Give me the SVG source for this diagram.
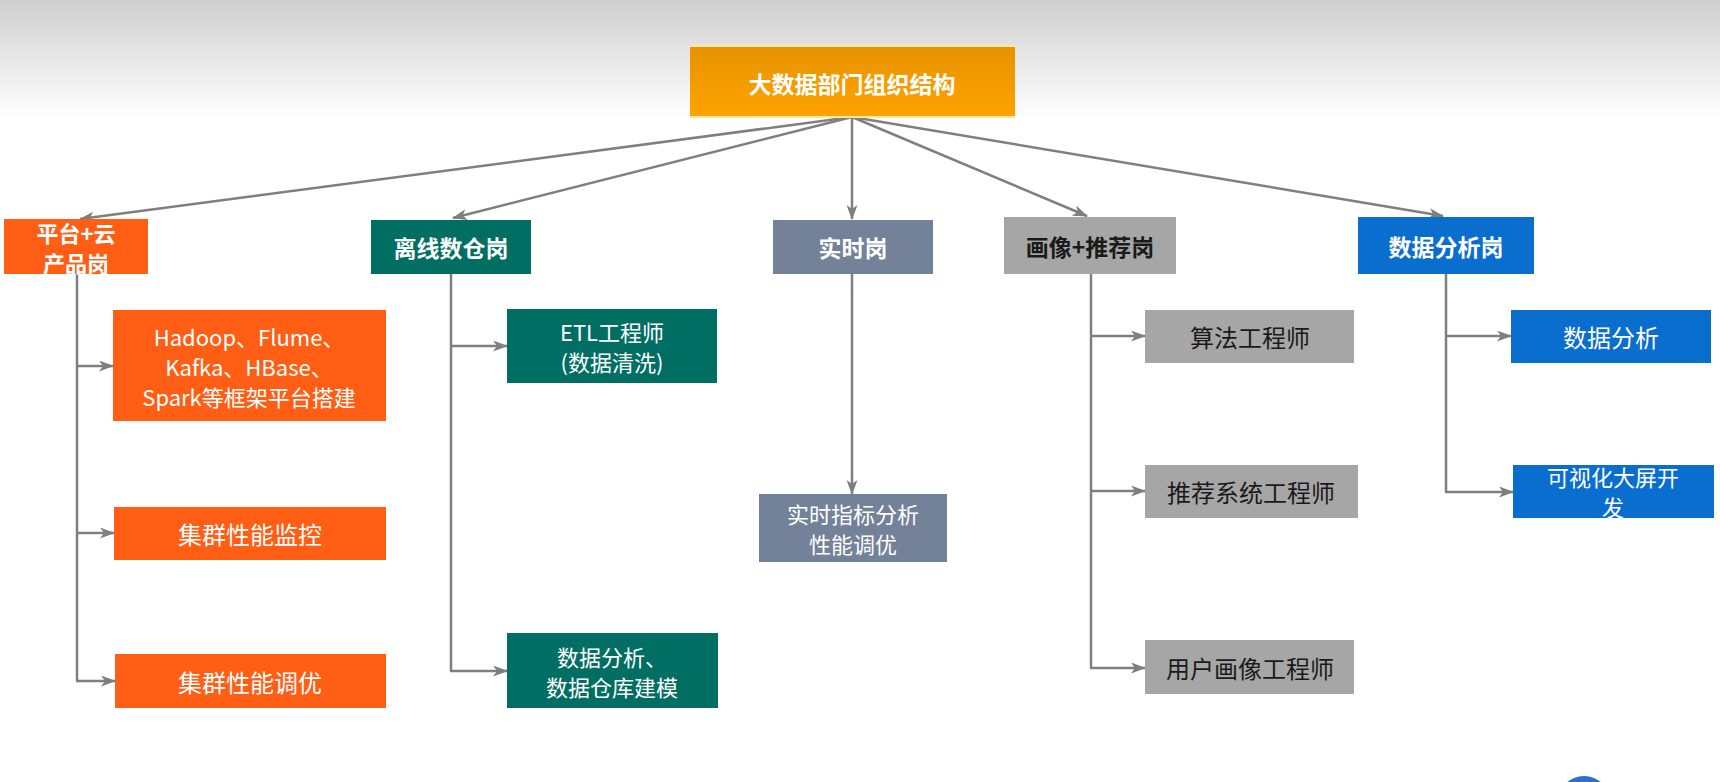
<svg xmlns="http://www.w3.org/2000/svg" width="1720" height="782" viewBox="0 0 1720 782">
<defs>
<linearGradient id="bg" x1="0" y1="0" x2="0" y2="1">
<stop offset="0" stop-color="#cfcfcf"/>
<stop offset="1" stop-color="#ffffff"/>
</linearGradient>
<linearGradient id="topg" x1="0" y1="0" x2="0" y2="1">
<stop offset="0" stop-color="#e69300"/>
<stop offset="1" stop-color="#ffa400"/>
</linearGradient>
<marker id="arr" viewBox="0 0 15 11" refX="14" refY="5.5" markerWidth="15" markerHeight="11" markerUnits="userSpaceOnUse" orient="auto">
<path d="M0,0 L15,5.5 L0,11 L4,5.5 z" fill="#7f7f7f"/>
</marker>
<style>
text{font-family:"Noto Sans CJK SC","Noto Sans",sans-serif;font-size:24px;text-anchor:middle;dominant-baseline:central}
.b{font-weight:bold;font-size:23px}
.m{font-size:22px}
.w{fill:#ffffff}
.k{fill:#1a1a1a}
.or{fill:#ff5e14}
.tl{fill:#006e62}
.sl{fill:#738299}
.gy{fill:#a6a6a6}
.bl{fill:#0a6ecf}
.c{fill:none;stroke:#7f7f7f;stroke-width:2.5}
.a{marker-end:url(#arr)}
</style>
</defs>
<rect x="0" y="0" width="1720" height="782" fill="#ffffff"/>
<rect x="0" y="0" width="1720" height="118" fill="url(#bg)"/>

<g id="connectors">
<path class="c a" d="M852,117 L80,219"/>
<path class="c a" d="M852,117 L453,218"/>
<path class="c a" d="M852,117 L852,219"/>
<path class="c a" d="M852,117 L1087,216"/>
<path class="c a" d="M852,117 L1443,216"/>
<path class="c" d="M77,274 L77,681"/>
<path class="c a" d="M77,366 L113,366"/>
<path class="c a" d="M77,533 L114,533"/>
<path class="c a" d="M76,681 L115,681"/>
<path class="c" d="M451,274 L451,671"/>
<path class="c a" d="M451,346 L507,346"/>
<path class="c a" d="M450,671 L507,671"/>
<path class="c a" d="M852,274 L852,494"/>
<path class="c" d="M1091,274 L1091,668"/>
<path class="c a" d="M1091,336 L1145,336"/>
<path class="c a" d="M1091,491 L1145,491"/>
<path class="c a" d="M1090,668 L1145,668"/>
<path class="c" d="M1446,274 L1446,492"/>
<path class="c a" d="M1446,336 L1511,336"/>
<path class="c a" d="M1445,492 L1513,492"/>
</g>

<g id="root">
<rect x="690" y="46" width="325" height="71" fill="url(#topg)"/>
<rect x="690" y="45" width="325" height="2" fill="#ffe7a0"/>
<rect x="690" y="116" width="325" height="2" fill="#ffe7a0"/>
<text class="b w" x="852" y="83">大数据部门组织结构</text>
</g>

<g id="platform">
<rect class="or" x="4" y="219" width="144" height="55"/>
<text class="b w m" x="76" y="232">平台+云</text>
<text class="b w m" x="76" y="262">产品岗</text>
</g>
<g id="hadoop">
<rect class="or" x="113" y="310" width="273" height="111"/>
<text class="w m" x="249" y="336">Hadoop、Flume、</text>
<text class="w m" x="249" y="366">Kafka、HBase、</text>
<text class="w m" x="249" y="396">Spark等框架平台搭建</text>
</g>
<g id="monitor">
<rect class="or" x="114" y="507" width="272" height="53"/>
<text class="w" x="250" y="533">集群性能监控</text>
</g>
<g id="tuning">
<rect class="or" x="115" y="654" width="271" height="54"/>
<text class="w" x="250" y="681">集群性能调优</text>
</g>

<g id="offline">
<rect class="tl" x="371" y="220" width="160" height="54"/>
<text class="b w" x="451" y="247">离线数仓岗</text>
</g>
<g id="etl">
<rect class="tl" x="507" y="309" width="210" height="74"/>
<text class="w m" x="612" y="331">ETL工程师</text>
<text class="w m" x="612" y="361">(数据清洗)</text>
</g>
<g id="dwmodel">
<rect class="tl" x="507" y="633" width="211" height="75"/>
<text class="w m" x="612" y="656">数据分析、</text>
<text class="w m" x="612" y="686">数据仓库建模</text>
</g>

<g id="realtime">
<rect class="sl" x="773" y="220" width="160" height="54"/>
<text class="b w" x="853" y="247">实时岗</text>
</g>
<g id="rtmetrics">
<rect class="sl" x="759" y="494" width="188" height="68"/>
<text class="w m" x="853" y="513">实时指标分析</text>
<text class="w m" x="853" y="543">性能调优</text>
</g>

<g id="profile">
<rect class="gy" x="1004" y="217" width="172" height="57"/>
<text class="b k" x="1090" y="246">画像+推荐岗</text>
</g>
<g id="algo">
<rect class="gy" x="1145" y="310" width="209" height="53"/>
<text class="k" x="1250" y="336">算法工程师</text>
</g>
<g id="recsys">
<rect class="gy" x="1145" y="465" width="213" height="53"/>
<text class="k" x="1251" y="491">推荐系统工程师</text>
</g>
<g id="userprofile">
<rect class="gy" x="1145" y="640" width="209" height="54"/>
<text class="k" x="1250" y="667">用户画像工程师</text>
</g>

<g id="analysis">
<rect class="bl" x="1358" y="217" width="176" height="57"/>
<text class="b w" x="1446" y="246">数据分析岗</text>
</g>
<g id="da">
<rect class="bl" x="1511" y="310" width="200" height="53"/>
<text class="w" x="1611" y="336">数据分析</text>
</g>
<g id="viz">
<rect class="bl" x="1513" y="465" width="201" height="53"/>
<text class="w m" x="1613" y="476">可视化大屏开</text>
<text class="w m" x="1613" y="506">发</text>
</g>

<circle cx="1584" cy="802" r="26" fill="#2a72c8"/>
</svg>
